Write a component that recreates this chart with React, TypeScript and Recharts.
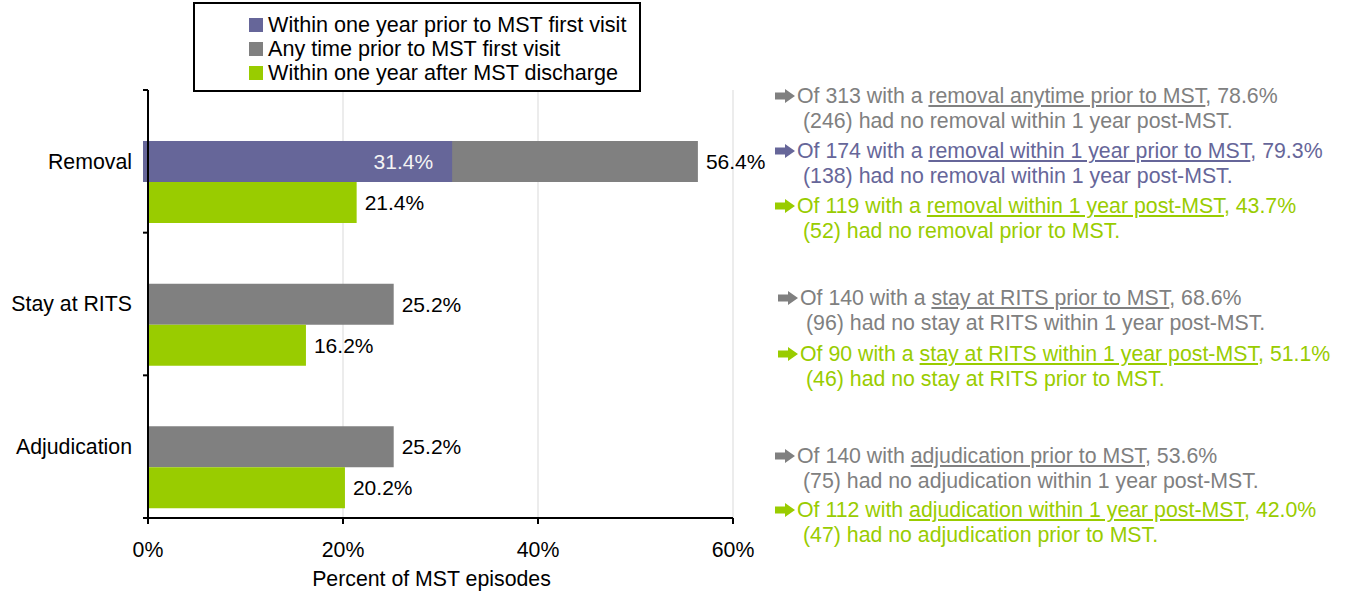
import React from 'react';
import { BarChart, Bar, XAxis, YAxis, CartesianGrid, LabelList } from 'recharts';

// ---------- data ----------
const categories = ['Removal', 'Stay at RITS', 'Adjudication'];
const withinYearPrior: (number | null)[] = [31.4, null, null];
const anyTimePrior = [56.4, 25.2, 25.2];
const withinYearAfter = [21.4, 16.2, 20.2];
const xTicks = [0, 20, 40, 60];
const xAxisTitle = 'Percent of MST episodes';

const seriesNames = [
  'Within one year prior to MST first visit',
  'Any time prior to MST first visit',
  'Within one year after MST discharge',
];

// tone: 0 = purple, 1 = grey, 2 = green
const noteTones = [1, 0, 2, 1, 2, 1, 2];
const noteLeads = ['Of 313 with a ', 'Of 174 with a ', 'Of 119 with a ', 'Of 140 with a ', 'Of 90 with a ', 'Of 140 with ', 'Of 112 with '];
const noteLinks = [
  'removal anytime prior to MST',
  'removal within 1 year prior to MST',
  'removal within 1 year post-MST',
  'stay at RITS prior to MST',
  'stay at RITS within 1 year post-MST',
  'adjudication prior to MST',
  'adjudication within 1 year post-MST',
];
const noteTails = [', 78.6%', ', 79.3%', ', 43.7%', ', 68.6%', ', 51.1%', ', 53.6%', ', 42.0%'];
const noteSubs = [
  '(246) had no removal within 1 year post-MST.',
  '(138) had no removal within 1 year post-MST.',
  '(52) had no removal prior to MST.',
  '(96) had no stay at RITS within 1 year post-MST.',
  '(46) had no stay at RITS prior to MST.',
  '(75) had no adjudication within 1 year post-MST.',
  '(47) had no adjudication prior to MST.',
];

// ---------- styles / layout ----------
const COLORS = ['#666699', '#808080', '#99cc00'];
const FONT = '"Liberation Sans", Arial, sans-serif';
const FS = 21;
const FS_AXIS = 21.3;
const FS_NOTE = 21.3;
const FS_LEGEND = 21.6;
const W = 1350;
const H = 592;
const M_TOP = 90;
const X_AXIS_H = 74;
const Y_AXIS_W = 148;
const M_RIGHT = 617;
const PLOT_H = H - M_TOP - X_AXIS_H;
const BAND = PLOT_H / categories.length;
const TICK_SIZE = 6;
const Y_TICK_MARGIN = 10;

const noteTops = [84, 139, 194, 286, 342, 444, 498];
const noteLefts = [775, 775, 775, 778, 778, 775, 775];

const data = categories.map((c, i) => ({
  category: c,
  withinYearPrior: withinYearPrior[i],
  anyTimePrior: anyTimePrior[i],
  withinYearAfter: withinYearAfter[i],
  blankA: null,
  blankB: null,
  blankC: null,
}));

const pct = (v: any) => (v == null ? '' : `${Number(v).toFixed(1)}%`);

const YTick = (props: any) => {
  const { x, y, payload, index } = props;
  const ax = x + TICK_SIZE + Y_TICK_MARGIN;
  return (
    <g>
      <text x={x} y={y} dy="0.35em" textAnchor="end" fill="#000" fontSize={FS_AXIS} fontFamily={FONT}>
        {payload.value}
      </text>
      <line x1={ax - 5} x2={ax} y1={y - BAND / 2} y2={y - BAND / 2} stroke="#000" strokeWidth={2} />
      {index === categories.length - 1 && (
        <line x1={ax - 5} x2={ax} y1={y + BAND / 2} y2={y + BAND / 2} stroke="#000" strokeWidth={2} />
      )}
    </g>
  );
};

const PurpleShape = (props: any) => {
  const { x, y, width, height, fill } = props;
  if (!width || width <= 0) return null;
  return <rect x={x - 5} y={y} width={width + 3} height={height} fill={fill} />;
};

const Arrow = ({ color }: { color: string }) => (
  <svg width={21} height={14} style={{ display: 'block' }}>
    <polygon points="0,3.5 10,3.5 10,0 20,7 10,14 10,10.5 0,10.5" fill={color} />
  </svg>
);

export default function App() {
  return (
    <div style={{ position: 'relative', width: W, height: H, background: '#fff', fontFamily: FONT }}>
      <style>{`body{margin:0;}`}</style>
      <BarChart
        width={W}
        height={H}
        data={data}
        layout="vertical"
        margin={{ top: M_TOP, right: M_RIGHT, bottom: 0, left: 0 }}
        barCategoryGap="7%"
        barGap={0}
      >
        <CartesianGrid horizontal={false} vertical stroke="#d9d9d9" strokeWidth={1} />
        <XAxis
          type="number"
          domain={[0, 60]}
          ticks={xTicks}
          tickFormatter={(v) => `${v}%`}
          height={X_AXIS_H}
          axisLine={{ stroke: '#000', strokeWidth: 2 }}
          tickLine={{ stroke: '#000', strokeWidth: 2 }}
          tickSize={TICK_SIZE}
          tickMargin={18}
          tick={{ fill: '#000', fontSize: FS_AXIS, fontFamily: FONT }}
          label={{ value: xAxisTitle, position: 'insideBottom', offset: 6, dx: -9, fill: '#000', fontSize: FS_AXIS, fontFamily: FONT }}
        />
        <YAxis
          type="category"
          dataKey="category"
          width={Y_AXIS_W}
          axisLine={{ stroke: '#000', strokeWidth: 2 }}
          tickLine={false}
          tickSize={TICK_SIZE}
          tickMargin={Y_TICK_MARGIN}
          tick={<YTick />}
          interval={0}
        />
        <YAxis yAxisId="ov" type="category" dataKey="category" hide />

        <Bar dataKey="blankA" fill="none" isAnimationActive={false} />
        <Bar dataKey="anyTimePrior" name={seriesNames[1]} fill={COLORS[1]} isAnimationActive={false}>
          <LabelList dataKey="anyTimePrior" position="right" offset={8} formatter={pct} fill="#000" fontSize={FS} fontFamily={FONT} />
        </Bar>
        <Bar dataKey="withinYearAfter" name={seriesNames[2]} fill={COLORS[2]} isAnimationActive={false}>
          <LabelList dataKey="withinYearAfter" position="right" offset={8} formatter={pct} fill="#000" fontSize={FS} fontFamily={FONT} />
        </Bar>

        <Bar yAxisId="ov" dataKey="blankB" fill="none" isAnimationActive={false} />
        <Bar yAxisId="ov" dataKey="withinYearPrior" name={seriesNames[0]} fill={COLORS[0]} shape={<PurpleShape />} isAnimationActive={false}>
          <LabelList dataKey="withinYearPrior" position="insideRight" offset={21} formatter={pct} fill="#f4f4f4" fontSize={FS} fontFamily={FONT} />
        </Bar>
        <Bar yAxisId="ov" dataKey="blankC" fill="none" isAnimationActive={false} />
      </BarChart>

      {/* legend */}
      <div
        style={{
          position: 'absolute',
          left: 193,
          top: 2,
          width: 448,
          height: 90,
          boxSizing: 'border-box',
          border: '2px solid #000',
          background: '#fff',
        }}
      >
        {seriesNames.map((n, i) => (
          <div
            key={n}
            style={{ position: 'absolute', left: 54, top: 9 + i * 24, height: 24, display: 'flex', alignItems: 'center', whiteSpace: 'nowrap' }}
          >
            <div style={{ width: 14, height: 14, background: COLORS[i], marginRight: 5 }} />
            <span style={{ fontSize: FS_LEGEND, color: '#000', lineHeight: '24px' }}>{n}</span>
          </div>
        ))}
      </div>

      {/* annotations */}
      {noteLeads.map((lead, i) => {
        const color = COLORS[noteTones[i]];
        const left = noteLefts[i];
        const top = noteTops[i];
        return (
          <React.Fragment key={i}>
            <div style={{ position: 'absolute', left, top: top + 5 }}>
              <Arrow color={color} />
            </div>
            <div
              style={{ position: 'absolute', left: left + 22, top, fontSize: FS_NOTE, lineHeight: '25px', color, whiteSpace: 'nowrap' }}
            >
              {lead}
              <span style={{ textDecoration: 'underline' }}>{noteLinks[i]}</span>
              {noteTails[i]}
            </div>
            <div
              style={{ position: 'absolute', left: left + 28, top: top + 25, fontSize: FS_NOTE, lineHeight: '25px', color, whiteSpace: 'nowrap' }}
            >
              {noteSubs[i]}
            </div>
          </React.Fragment>
        );
      })}
    </div>
  );
}
